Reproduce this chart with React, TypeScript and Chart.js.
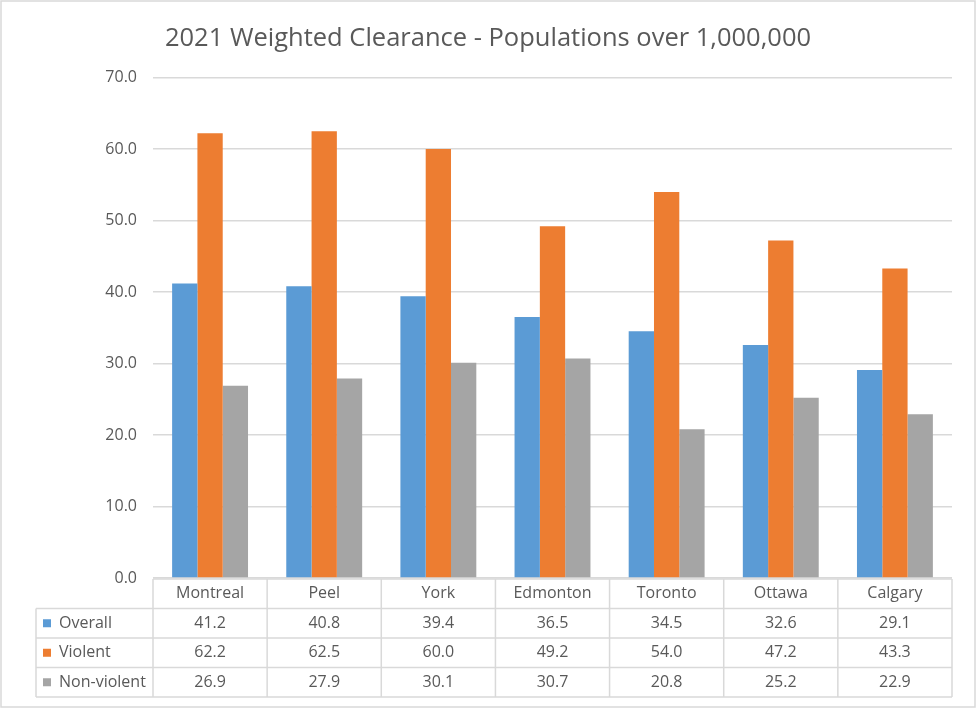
import { useEffect, useRef } from 'react';
import { Chart, registerables } from 'chart.js';
import type { Plugin } from 'chart.js';

Chart.register(...registerables);

const cities = ['Montreal', 'Peel', 'York', 'Edmonton', 'Toronto', 'Ottawa', 'Calgary'];
const overall = [41.2, 40.8, 39.4, 36.5, 34.5, 32.6, 29.1];
const violent = [62.2, 62.5, 60.0, 49.2, 54.0, 47.2, 43.3];
const nonViolent = [26.9, 27.9, 30.1, 30.7, 20.8, 25.2, 22.9];

const seriesNames = ['Overall', 'Violent', 'Non-violent'];
const seriesColors = ['#5B9BD5', '#ED7D31', '#A5A5A5'];

const FONT = "'Open Sans', sans-serif";
const TEXT = '#595959';
const LINE = '#D9D9D9';

// draws the Excel-style data table under the plot, aligned to the x scale
const dataTable: Plugin<'bar'> = {
  id: 'dataTable',
  afterDraw(chart) {
    const { ctx, chartArea } = chart;
    const x = chart.scales.x;
    const n = cities.length;
    const colW = (chartArea.right - chartArea.left) / n;
    const top = chartArea.bottom + 1;
    const rowH = 29.5;
    const labelLeft = 36;
    const bottom = top + rowH * 4;

    ctx.save();
    ctx.strokeStyle = LINE;
    ctx.lineWidth = 1.5;

    // horizontal lines
    ctx.beginPath();
    ctx.moveTo(chartArea.left, top);
    ctx.lineTo(chartArea.right, top);
    for (let r = 1; r <= 4; r++) {
      const y = top + r * rowH;
      ctx.moveTo(labelLeft, y);
      ctx.lineTo(chartArea.right, y);
    }
    // vertical lines
    for (let i = 0; i <= n; i++) {
      const lx = chartArea.left + i * colW;
      ctx.moveTo(lx, top);
      ctx.lineTo(lx, bottom);
    }
    ctx.moveTo(labelLeft, top + rowH);
    ctx.lineTo(labelLeft, bottom);
    ctx.stroke();

    ctx.fillStyle = TEXT;
    ctx.font = `16px ${FONT}`;
    ctx.textBaseline = 'middle';
    ctx.textAlign = 'center';
    cities.forEach((c, i) => {
      ctx.fillText(c, x.getPixelForValue(i), top + rowH / 2);
    });

    chart.data.datasets.forEach((ds, r) => {
      const cy = top + rowH * (r + 1) + rowH / 2;
      ctx.textAlign = 'center';
      ctx.fillStyle = TEXT;
      (ds.data as number[]).forEach((v, i) => {
        ctx.fillText(v.toFixed(1), x.getPixelForValue(i), cy);
      });
      ctx.fillStyle = seriesColors[r];
      ctx.fillRect(43, cy - 4, 8, 8);
      ctx.fillStyle = TEXT;
      ctx.textAlign = 'left';
      ctx.fillText(seriesNames[r], 59, cy);
    });

    // outer chart border
    ctx.lineWidth = 1.5;
    ctx.strokeRect(1, 1, chart.width - 3, chart.height - 3);
    ctx.restore();
  },
};

export default function App() {
  const canvasRef = useRef<HTMLCanvasElement>(null);
  const chartRef = useRef<Chart | null>(null);

  useEffect(() => {
    document.body.style.margin = '0';
    if (!canvasRef.current) return;

    if (chartRef.current) {
      chartRef.current.destroy();
    }

    chartRef.current = new Chart(canvasRef.current, {
      type: 'bar',
      data: {
        labels: cities,
        datasets: [overall, violent, nonViolent].map((d, i) => ({
          label: seriesNames[i],
          data: d,
          backgroundColor: seriesColors[i],
          barPercentage: 1,
          categoryPercentage: 0.665,
        })),
      },
      options: {
        responsive: false,
        animation: false,
        // left padding keeps the title centred on the full canvas
        layout: { padding: { left: 24, right: 25, top: 0, bottom: 131 } },
        plugins: {
          legend: { display: false },
          tooltip: { enabled: false },
          title: {
            display: true,
            text: '2021 Weighted Clearance - Populations over 1,000,000',
            color: TEXT,
            font: { family: FONT, size: 25.5, weight: 'normal' },
            padding: { top: 23, bottom: 24 },
          },
        },
        scales: {
          x: { display: false },
          y: {
            min: 0,
            max: 70,
            afterFit: (scale) => {
              scale.width = 129;
            },
            border: { display: false },
            grid: { color: LINE, lineWidth: 1.5, drawTicks: false },
            ticks: {
              stepSize: 10,
              padding: 16,
              color: TEXT,
              font: { family: FONT, size: 16 },
              callback: (v) => Number(v).toFixed(1),
            },
          },
        },
      },
      plugins: [dataTable],
    });

    return () => {
      chartRef.current?.destroy();
      chartRef.current = null;
    };
  }, []);

  return (
    <div style={{ width: 977, height: 709, background: '#fff' }}>
      <canvas ref={canvasRef} width={977} height={709} />
    </div>
  );
}
